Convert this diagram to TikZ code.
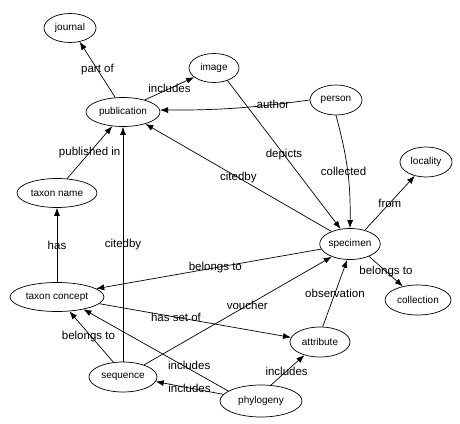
\documentclass[tikz,border=0pt]{standalone}
\usepackage{fontspec}
\setmainfont{Liberation Sans}
\usetikzlibrary{shapes.geometric, arrows.meta}

\begin{document}
\begin{tikzpicture}[
    x=1pt, y=1pt,
    entity/.style={ellipse, draw, line width=0.7pt, inner sep=0pt, minimum height=29pt, font=\fontsize{10}{12}\selectfont},
    rel/.style={font=\fontsize{11.5}{13}\selectfont, inner sep=0pt},
    arrow/.style={-{Latex[length=8pt, width=6pt]}, line width=0.7pt},
]
\useasboundingbox (0,0) rectangle (460,-423);

%% ENTITIES
    \node[entity, minimum width=52pt] (journal) at (70,-28) {journal};
    \node[entity, minimum width=50pt] (image) at (214,-68) {image};
    \node[entity, minimum width=74pt] (publication) at (123,-112) {publication};
    \node[entity, minimum width=52pt, minimum height=30pt] (person) at (336,-100) {person};
    \node[entity, minimum width=80pt] (taxonname) at (57,-193) {taxon name};
    \node[entity, minimum width=52pt, minimum height=30pt] (locality) at (426,-162) {locality};
    \node[entity, minimum width=60pt, minimum height=31pt] (specimen) at (350,-244) {specimen};
    \node[entity, minimum width=66pt, minimum height=30pt] (collection) at (418,-300) {collection};
    \node[entity, minimum width=94pt] (taxonconcept) at (57,-297) {taxon concept};
    \node[entity, minimum width=60pt, minimum height=30pt] (attribute) at (320,-342) {attribute};
    \node[entity, minimum width=68pt, minimum height=30pt] (sequence) at (123,-377) {sequence};
    \node[entity, minimum width=82pt, minimum height=32pt] (phylogeny) at (261,-401) {phylogeny};

%% RELATIONS
    % publications
    \draw[arrow] (publication.118) -- node[rel] {part of} (journal.-55);
    \draw[arrow] (publication.29) -- node[rel] {includes} (image.205);
    \draw[arrow] (person.180) to[bend left=4] node[rel, pos=0.23] {author} (publication.3);
    \draw[arrow] (taxonname.55) -- node[rel] {published in} (publication.-127);
    \draw[arrow] (specimen.146) -- node[rel] {citedby} (publication.-28);
    \draw[arrow] (sequence) -- node[rel] {citedby} (publication);

    % specimen
    \draw[arrow] (image.-43) -- node[rel] {depicts} (specimen.122);
    \draw[arrow] (person.south) to[bend left=8] node[rel, xshift=-4pt] {collected} (specimen.north);
    \draw[arrow] (specimen.43) -- node[rel] {from} (locality.-129);
    \draw[arrow] (specimen.-33) -- node[rel] {belongs to} (collection.138);
    \draw[arrow] (attribute.80) -- node[rel] {observation} (specimen.-100);
    \draw[arrow] (sequence.30) -- node[rel, pos=0.55] {voucher} (specimen.215);

    % taxa
    \draw[arrow] (specimen.190) -- node[rel, pos=0.47] {belongs to} (taxonconcept.12);
    \draw[arrow] (taxonconcept) -- node[rel] {has} (taxonname);
    \draw[arrow] (taxonconcept.-9) -- node[rel, pos=0.4] {has set of} (attribute.171);
    \draw[arrow] (sequence.123) -- node[rel, xshift=-3pt] {belongs to} (taxonconcept.-49);

    % phylogeny
    \draw[arrow] (phylogeny.163) -- node[rel, pos=0.27, yshift=4pt] {includes} (taxonconcept.-25);
    \draw[arrow] (phylogeny.170) -- node[rel] {includes} (sequence.-8);
    \draw[arrow] (phylogeny.58) -- node[rel, pos=0.47] {includes} (attribute.-140);

\end{tikzpicture}
\end{document}
